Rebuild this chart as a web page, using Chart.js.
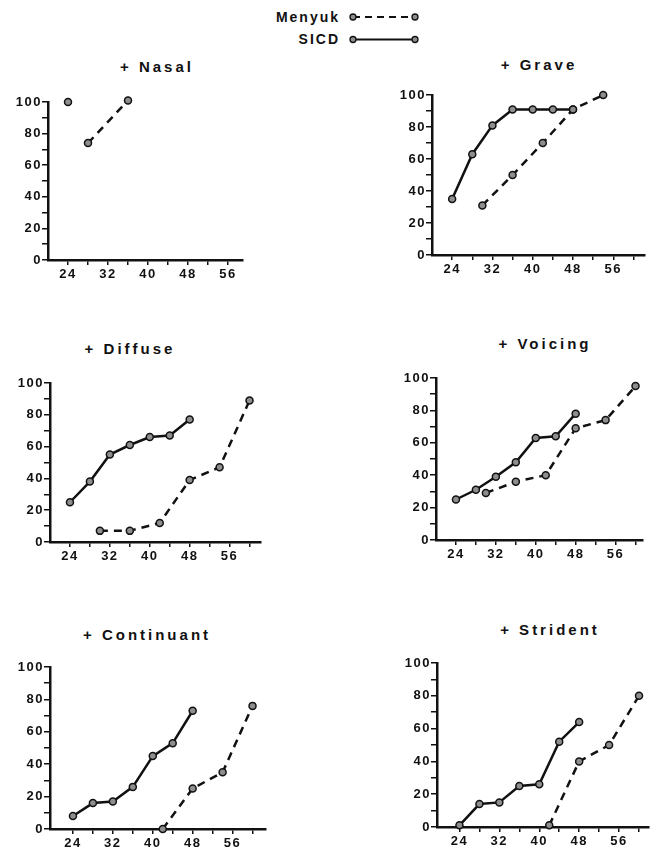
<!DOCTYPE html>
<html lang="en">
<head>
<meta charset="UTF-8">
<title>Features - Menyuk vs SICD</title>
<script src="https://cdn.jsdelivr.net/npm/chart.js"></script>
<style>
    body { margin: 0; background: #fff; width: 652px; height: 852px; position: relative; overflow: hidden;
           font-family: "Liberation Sans", Arial, sans-serif; color: #111; }
    .titulo { position: absolute; font-weight: bold; font-size: 15px; letter-spacing: 3px;
              transform: translate(-50%, -50%); white-space: nowrap; }
    .legenda { position: absolute; font-weight: bold; font-size: 14px; letter-spacing: 2px;
               text-align: right; width: 100px; transform: translateY(-50%); }
    canvas { position: absolute; }
    svg { position: absolute; left: 0; top: 0; }
</style>
</head>
<body>

<div class="legenda" style="left: 240px; top: 17px;">Menyuk</div>
<div class="legenda" style="left: 240px; top: 39px;">SICD</div>
<svg width="652" height="60">
    <line x1="353" y1="17" x2="415" y2="17" stroke="#111" stroke-width="2" stroke-dasharray="7 5"/>
    <circle cx="353" cy="17" r="3" fill="#8e8e8e" stroke="#111" stroke-width="1.3"/>
    <circle cx="415" cy="17" r="3" fill="#8e8e8e" stroke="#111" stroke-width="1.3"/>
    <line x1="353" y1="39.5" x2="415" y2="39.5" stroke="#111" stroke-width="2"/>
    <circle cx="353" cy="39.5" r="3" fill="#8e8e8e" stroke="#111" stroke-width="1.3"/>
    <circle cx="415" cy="39.5" r="3" fill="#8e8e8e" stroke="#111" stroke-width="1.3"/>
</svg>

<div class="titulo" style="left: 157px; top: 66px;">+ Nasal</div>
<div class="titulo" style="left: 539px; top: 64px;">+ Grave</div>
<div class="titulo" style="left: 130px; top: 348px;">+ Diffuse</div>
<div class="titulo" style="left: 545px; top: 343px;">+ Voicing</div>
<div class="titulo" style="left: 147px; top: 634px;">+ Continuant</div>
<div class="titulo" style="left: 550px; top: 629px;">+ Strident</div>

<canvas id="chartNasal"></canvas>
<canvas id="chartGrave"></canvas>
<canvas id="chartDiffuse"></canvas>
<canvas id="chartVoicing"></canvas>
<canvas id="chartContinuant"></canvas>
<canvas id="chartStrident"></canvas>

<script>
    // ages in months
    const idadesSICD = [24, 28, 32, 36, 40, 44, 48];
    const idadesMenyuk = [30, 36, 42, 48, 54, 60];
    const idadesMenyukTardio = [42, 48, 54, 60];

    const xTicks = [24, 28, 32, 36, 40, 44, 48, 52, 56, 60];
    const yTicks = [0, 10, 20, 30, 40, 50, 60, 70, 80, 90, 100];

    // + Nasal
    const nasalSicdIdades = [24];
    const nasalSicd = [100];
    const nasalMenyukIdades = [28, 36];
    const nasalMenyuk = [74, 101];

    // + Grave
    const graveSicd = [35, 63, 81, 91, 91, 91, 91];
    const graveMenyukIdades = [30, 36, 42, 48, 54];
    const graveMenyuk = [31, 50, 70, 91, 100];

    // + Diffuse
    const diffuseSicd = [25, 38, 55, 61, 66, 67, 77];
    const diffuseMenyuk = [7, 7, 12, 39, 47, 89];

    // + Voicing
    const voicingSicd = [25, 31, 39, 48, 63, 64, 78];
    const voicingMenyuk = [29, 36, 40, 69, 74, 95];

    // + Continuant
    const continuantSicd = [8, 16, 17, 26, 45, 53, 73];
    const continuantMenyuk = [0, 25, 35, 76];

    // + Strident
    const stridentSicd = [1, 14, 15, 25, 26, 52, 64];
    const stridentMenyuk = [1, 40, 50, 80];

    function pontos(idades, valores) {
        return idades.map((idade, i) => ({ x: idade, y: valores[i] }));
    }

    // wider spacing for the tick numbers, like the print
    const espacamento = {
        id: 'espacamento',
        beforeDraw: (chart) => { chart.ctx.letterSpacing = '1.5px'; }
    };

    const eixoY = 36, eixoX = 26, margem = 10;

    function criarGrafico(id, area, sicd, menyuk) {
        const larg = (area.xmax - area.xmin) * area.pxMes;
        const alt = area.bottom - area.top;
        const canvas = document.getElementById(id);
        canvas.width = eixoY + larg + margem;
        canvas.height = margem + alt + eixoX;
        canvas.style.left = (area.left - eixoY) + 'px';
        canvas.style.top = (area.top - margem) + 'px';

        const estiloPonto = {
            pointRadius: 3.5,
            pointBackgroundColor: '#8e8e8e',
            pointBorderColor: '#111',
            pointBorderWidth: 1.5,
            borderColor: '#111',
            borderWidth: 2.5,
            fill: false,
            tension: 0,
            clip: false
        };

        return new Chart(canvas, {
            type: 'line',
            data: {
                datasets: [
                    Object.assign({ label: 'SICD', data: sicd }, estiloPonto),
                    Object.assign({ label: 'Menyuk', data: menyuk, borderDash: [8, 6] }, estiloPonto)
                ]
            },
            options: {
                responsive: false,
                animation: false,
                layout: { padding: { top: margem, right: margem, left: 0, bottom: 0 } },
                plugins: { legend: { display: false }, tooltip: { enabled: false } },
                scales: {
                    x: {
                        type: 'linear',
                        min: area.xmin,
                        max: area.xmax,
                        afterBuildTicks: (eixo) => {
                            eixo.ticks = xTicks.filter(v => v <= area.xmax).map(v => ({ value: v }));
                        },
                        afterFit: (eixo) => { eixo.height = eixoX; },
                        ticks: {
                            autoSkip: false,
                            maxRotation: 0,
                            padding: 2,
                            color: '#111',
                            font: { family: 'Liberation Sans', size: 13, weight: 'bold' },
                            callback: (v) => (v % 8 === 0 ? v : '')
                        },
                        grid: { drawOnChartArea: false, tickLength: 5, color: '#111', lineWidth: 1.5 },
                        border: { color: '#111', width: 2.5 }
                    },
                    y: {
                        min: 0,
                        max: 100,
                        afterBuildTicks: (eixo) => {
                            eixo.ticks = yTicks.map(v => ({ value: v }));
                        },
                        afterFit: (eixo) => { eixo.width = eixoY; },
                        ticks: {
                            autoSkip: false,
                            padding: 0,
                            color: '#111',
                            font: { family: 'Liberation Sans', size: 13, weight: 'bold' },
                            callback: (v) => (v % 20 === 0 ? v : '')
                        },
                        grid: { drawOnChartArea: false, tickLength: 6, color: '#111', lineWidth: 1.5 },
                        border: { color: '#111', width: 2.5 }
                    }
                }
            },
            plugins: [espacamento]
        });
    }

    criarGrafico('chartNasal',
        { left: 48, top: 102, bottom: 260, xmin: 20, xmax: 59, pxMes: 5 },
        pontos(nasalSicdIdades, nasalSicd), pontos(nasalMenyukIdades, nasalMenyuk));

    criarGrafico('chartGrave',
        { left: 432, top: 95, bottom: 255, xmin: 20, xmax: 62.3, pxMes: 5.05 },
        pontos(idadesSICD, graveSicd), pontos(graveMenyukIdades, graveMenyuk));

    criarGrafico('chartDiffuse',
        { left: 50, top: 383, bottom: 542, xmin: 20, xmax: 62.3, pxMes: 5 },
        pontos(idadesSICD, diffuseSicd), pontos(idadesMenyuk, diffuseMenyuk));

    criarGrafico('chartVoicing',
        { left: 436, top: 378, bottom: 540, xmin: 20, xmax: 61.5, pxMes: 5 },
        pontos(idadesSICD, voicingSicd), pontos(idadesMenyuk, voicingMenyuk));

    criarGrafico('chartContinuant',
        { left: 50, top: 667, bottom: 829, xmin: 19.4, xmax: 62.7, pxMes: 5 },
        pontos(idadesSICD, continuantSicd), pontos(idadesMenyukTardio, continuantMenyuk));

    criarGrafico('chartStrident',
        { left: 437, top: 663, bottom: 827, xmin: 19.5, xmax: 62, pxMes: 5 },
        pontos(idadesSICD, stridentSicd), pontos(idadesMenyukTardio, stridentMenyuk));
</script>
</body>
</html>
